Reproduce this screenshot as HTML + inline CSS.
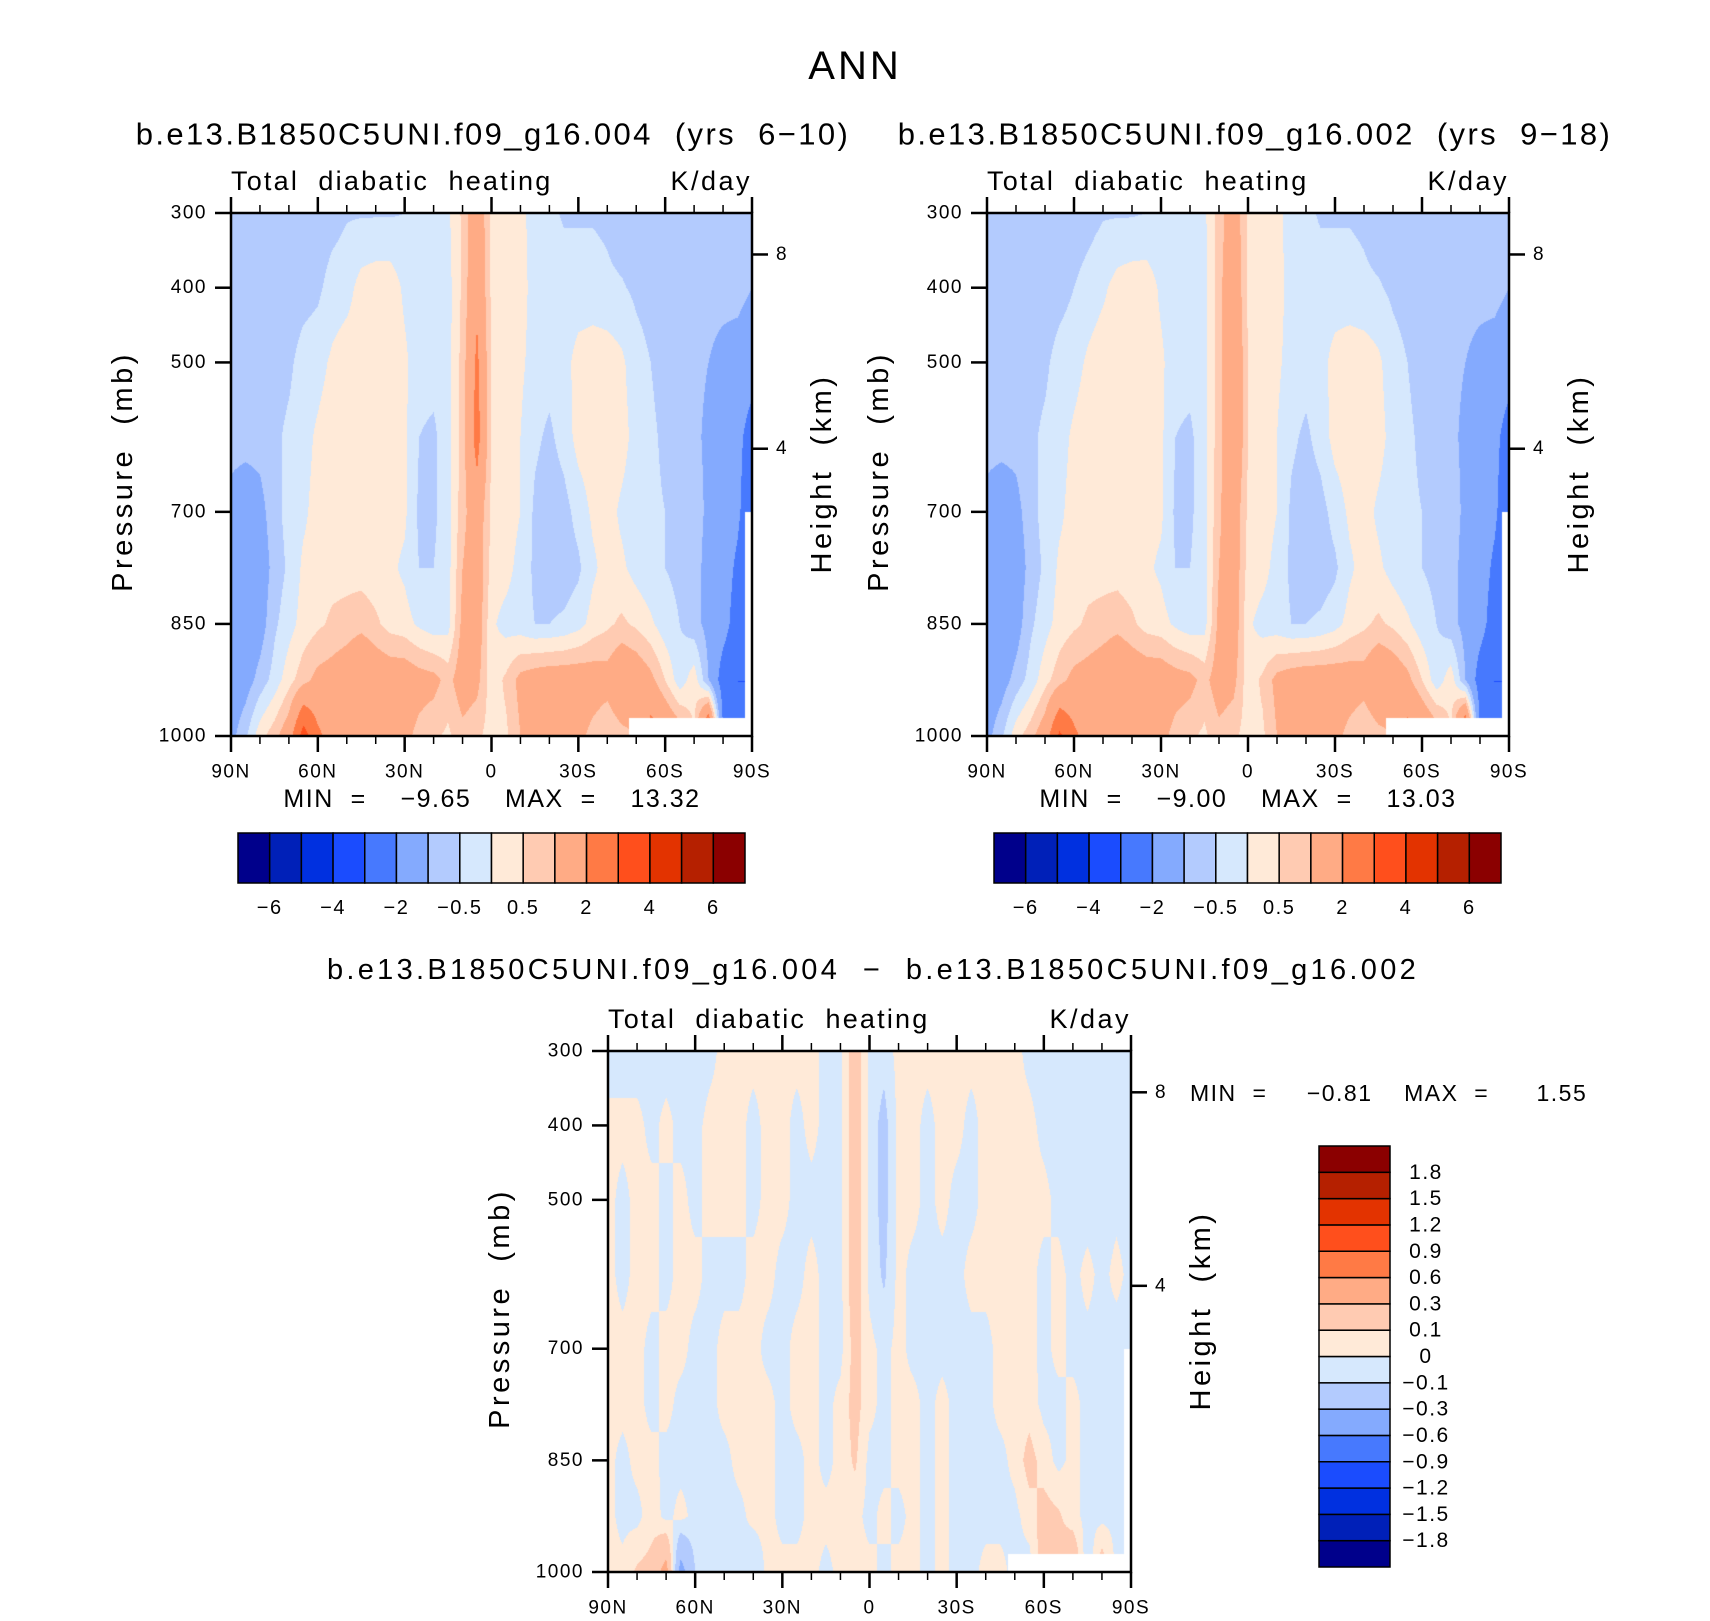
<!DOCTYPE html>
<html><head><meta charset="utf-8">
<style>
html,body{margin:0;padding:0;background:#fff;}
#root{position:relative;width:1710px;height:1621px;overflow:hidden;background:#fff;font-family:"Liberation Sans",sans-serif;color:#000;}
.t{position:absolute;white-space:pre;line-height:1;}
canvas{position:absolute;}
svg{position:absolute;left:0;top:0;}
svg text{white-space:pre;}
</style></head>
<body>
<div id="root">
<div class="t" style="left:0;width:1710px;text-align:center;top:46px;font-size:40px;letter-spacing:3px;">ANN</div>
<canvas id="c1" width="521" height="523" style="left:231px;top:213px"></canvas>
<canvas id="c2" width="522" height="523" style="left:987px;top:213px"></canvas>
<canvas id="c3" width="523" height="521" style="left:608px;top:1051px"></canvas>
<svg id="ov" width="1710" height="1621"></svg>
</div>
<script>
// ---------- data ----------
const lats = [90,85,80,75,70,65,60,55,50,45,40,35,30,25,20,15,10,5,0,-5,-10,-15,-20,-25,-30,-35,-40,-45,-50,-55,-60,-65,-70,-75,-80,-85,-90];
const levels = [300,400,500,600,700,775,850,925,1000];
const surfacePressure = [1000,1000,1000,1000,1000,1000,1000,1000,1000,1000,1000,1000,1000,1000,1000,1000,1000,1000,1000,1000,1000,1000,1000,1000,1000,1000,1000,1000,976,976,976,976,976,976,976,976,700];
const case1 = [
[-0.8,-0.8,-0.8,-0.8,-0.8,-0.8,-0.8,-0.7,-0.55,-0.55,-0.55,-0.55,-0.5,-0.3,-0.2,-0.1,0.6,1.6,0.4,0.3,0.2,-0.3,-0.4,-0.55,-0.55,-0.55,-0.6,-0.8,-0.8,-0.8,-0.8,-0.8,-0.8,-0.8,-0.8,-0.8,-0.6],
[-0.8,-0.8,-0.8,-0.8,-0.8,-0.7,-0.6,-0.3,-0.2,0.2,0.3,0.3,-0.1,-0.3,-0.3,-0.2,0.6,1.8,0.4,0.3,0.2,-0.2,-0.3,-0.3,-0.3,-0.3,-0.4,-0.45,-0.6,-0.7,-0.8,-0.8,-0.8,-0.8,-0.8,-0.8,-1.0],
[-0.8,-0.8,-0.8,-0.7,-0.6,-0.3,-0.2,0.1,0.3,0.3,0.3,0.3,0.1,-0.3,-0.3,-0.2,0.7,2.2,0.4,0.3,0.1,-0.2,-0.3,-0.2,0.2,0.3,0.3,0.1,-0.3,-0.5,-0.7,-0.8,-0.9,-1.0,-1.2,-1.3,-1.5],
[-0.8,-0.8,-0.8,-0.6,-0.4,-0.2,0.1,0.3,0.3,0.3,0.3,0.3,0.1,-0.5,-0.6,-0.2,0.7,2.4,0.4,0.3,0.0,-0.4,-0.6,-0.3,0.2,0.3,0.3,0.2,-0.2,-0.4,-0.6,-0.7,-0.9,-1.1,-1.4,-1.7,-2.5],
[-1.2,-1.4,-1.2,-0.7,-0.3,-0.1,0.2,0.3,0.3,0.2,0.1,0.2,0.1,-0.6,-0.6,-0.2,0.8,1.5,0.4,0.3,0.0,-0.6,-0.8,-0.7,-0.3,0.1,0.2,-0.1,-0.3,-0.4,-0.5,-0.6,-0.8,-1.1,-1.4,-1.8,-2.8],
[-1.5,-1.6,-1.4,-0.8,-0.4,0.1,0.2,0.3,0.3,0.3,0.2,0.1,-0.1,-0.5,-0.5,-0.2,1.0,1.5,0.3,0.2,-0.2,-0.6,-0.8,-0.8,-0.6,-0.1,0.2,0.1,-0.2,-0.4,-0.5,-0.6,-0.8,-1.2,-1.5,-2.2,-3.0],
[-1.6,-1.5,-1.3,-0.6,-0.2,0.2,0.4,0.6,0.7,0.8,0.6,0.3,0.2,-0.1,-0.3,-0.2,1.2,1.5,0.1,-0.2,-0.3,-0.5,-0.5,-0.4,-0.2,0.2,0.4,0.6,0.4,0.1,-0.3,-0.5,-0.8,-1.2,-1.6,-2.5,-3.0],
[-1.5,-1.3,-0.8,-0.3,0.3,0.8,1.2,1.3,1.5,2.0,1.6,1.5,1.5,1.3,1.2,0.8,1.4,1.2,0.2,0.6,1.2,1.4,1.5,1.5,1.5,1.4,1.3,1.8,1.6,1.2,0.5,-0.3,0.3,-1.0,-2.5,-3.0,-3.0],
[-1.2,-0.6,0.3,0.8,1.5,3.5,2.2,1.6,1.5,1.4,1.5,1.4,1.2,0.8,0.6,0.4,0.8,0.6,0.3,0.4,1.0,1.2,1.3,1.3,1.2,0.8,0.5,0.8,1.0,2.5,2.0,1.5,0.5,4.0,-2.0,-3.0,-3.0]
];
const case2 = [
[-0.8,-0.8,-0.8,-0.8,-0.8,-0.8,-0.8,-0.7,-0.55,-0.55,-0.55,-0.5,-0.45,-0.3,-0.2,-0.1,0.7,1.5,0.4,0.3,0.2,-0.3,-0.4,-0.55,-0.55,-0.55,-0.6,-0.8,-0.8,-0.8,-0.8,-0.8,-0.8,-0.8,-0.8,-0.8,-0.6],
[-0.8,-0.8,-0.8,-0.8,-0.8,-0.7,-0.5,-0.3,-0.1,0.2,0.3,0.3,-0.1,-0.3,-0.3,-0.2,0.8,1.7,0.4,0.3,0.2,-0.2,-0.3,-0.3,-0.3,-0.3,-0.4,-0.45,-0.6,-0.7,-0.8,-0.8,-0.8,-0.8,-0.8,-0.8,-1.0],
[-0.8,-0.8,-0.8,-0.7,-0.6,-0.3,-0.2,0.1,0.3,0.3,0.3,0.3,0.1,-0.3,-0.3,-0.2,0.8,1.9,0.5,0.3,0.1,-0.2,-0.3,-0.2,0.2,0.3,0.3,0.1,-0.3,-0.5,-0.7,-0.8,-0.9,-1.0,-1.2,-1.3,-1.5],
[-0.8,-0.8,-0.8,-0.6,-0.4,-0.2,0.1,0.3,0.3,0.3,0.3,0.3,0.1,-0.5,-0.6,-0.2,0.8,1.9,0.5,0.3,0.0,-0.4,-0.6,-0.3,0.2,0.3,0.3,0.2,-0.2,-0.4,-0.6,-0.7,-0.9,-1.1,-1.4,-1.7,-2.5],
[-1.2,-1.4,-1.2,-0.7,-0.3,-0.1,0.2,0.3,0.3,0.2,0.1,0.2,0.1,-0.6,-0.6,-0.2,0.9,1.5,0.4,0.3,0.0,-0.6,-0.8,-0.7,-0.3,0.1,0.2,-0.1,-0.3,-0.4,-0.5,-0.6,-0.8,-1.1,-1.4,-1.8,-2.8],
[-1.5,-1.6,-1.4,-0.8,-0.4,0.1,0.2,0.3,0.3,0.3,0.2,0.1,-0.1,-0.5,-0.5,-0.2,1.0,1.5,0.3,0.2,-0.2,-0.6,-0.8,-0.8,-0.6,-0.1,0.2,0.1,-0.2,-0.4,-0.5,-0.6,-0.8,-1.2,-1.5,-2.2,-3.0],
[-1.6,-1.5,-1.3,-0.6,-0.2,0.2,0.4,0.6,0.7,0.8,0.6,0.3,0.2,-0.1,-0.3,-0.2,1.2,1.5,0.1,-0.2,-0.3,-0.5,-0.5,-0.4,-0.2,0.2,0.4,0.6,0.4,0.1,-0.3,-0.5,-0.8,-1.2,-1.6,-2.5,-3.0],
[-1.5,-1.3,-0.8,-0.3,0.3,0.8,1.2,1.3,1.5,1.9,1.6,1.5,1.5,1.3,1.2,0.8,1.4,1.2,0.2,0.6,1.2,1.4,1.5,1.5,1.5,1.4,1.3,1.8,1.6,1.2,0.5,-0.3,0.3,-1.0,-2.5,-3.0,-3.0],
[-1.2,-0.6,0.3,0.8,1.5,3.2,2.2,1.6,1.5,1.4,1.5,1.4,1.2,0.8,0.6,0.4,0.8,0.6,0.3,0.4,1.0,1.2,1.3,1.3,1.2,0.8,0.5,0.8,1.0,2.4,2.0,1.5,0.5,3.8,-2.0,-3.0,-3.0]
];
const diff = [
[-0.05,-0.05,-0.05,-0.05,-0.05,-0.05,-0.05,-0.03,0.03,0.03,0.03,0.03,0.03,0.03,0.03,-0.03,-0.03,0.2,-0.03,-0.05,0.03,0.03,0.03,0.03,0.03,0.03,0.03,0.03,0.03,-0.03,-0.05,-0.05,-0.05,-0.05,-0.05,-0.05,-0.05],
[0.03,0.03,0.03,-0.03,0.03,-0.03,-0.03,0.03,0.03,0.03,-0.03,0.03,0.03,-0.03,0.03,-0.03,-0.03,0.2,-0.03,-0.15,0.03,0.03,-0.03,0.03,0.03,-0.03,0.03,0.03,0.03,0.03,-0.03,-0.05,-0.05,-0.05,-0.05,-0.05,-0.05],
[0.03,-0.03,0.03,0.03,-0.03,0.03,-0.03,0.03,0.03,0.03,-0.03,0.03,0.03,-0.03,-0.03,-0.03,-0.03,0.2,-0.03,-0.15,0.03,0.03,-0.03,0.03,-0.03,-0.03,0.03,0.03,0.03,0.03,0.03,-0.03,-0.05,-0.05,-0.05,-0.03,-0.05],
[0.03,-0.03,0.03,0.03,-0.03,0.03,0.03,-0.03,-0.03,-0.03,0.03,0.03,-0.03,-0.03,0.03,-0.03,-0.03,0.2,-0.03,-0.12,0.03,-0.03,-0.03,-0.03,-0.03,0.03,0.03,0.03,0.03,0.03,-0.03,0.03,-0.03,0.03,-0.03,0.03,-0.03],
[0.03,0.03,0.03,-0.03,0.03,0.03,-0.03,-0.03,0.03,0.03,0.03,-0.03,-0.03,0.03,0.03,-0.03,-0.03,0.15,0.03,-0.03,0.03,-0.03,-0.03,-0.03,-0.03,-0.03,-0.03,0.03,0.03,0.03,-0.03,0.03,-0.03,-0.03,-0.03,-0.05,-0.05],
[0.03,0.03,0.03,-0.03,0.03,-0.03,-0.03,-0.03,0.03,0.03,0.03,0.03,-0.03,0.03,0.03,-0.03,0.03,0.15,0.03,-0.03,0.03,0.03,-0.03,0.03,-0.03,-0.03,-0.03,0.03,0.03,0.05,-0.03,-0.03,0.03,-0.03,-0.03,-0.03,-0.03],
[0.03,-0.03,0.03,0.03,-0.03,-0.03,-0.03,-0.03,-0.03,0.03,0.03,0.03,-0.03,-0.03,0.03,-0.03,0.03,0.12,-0.03,-0.03,0.03,0.03,-0.03,0.03,-0.03,-0.03,-0.03,-0.03,0.03,0.15,0.05,-0.03,0.03,-0.03,-0.03,-0.03,-0.03],
[0.03,-0.03,-0.03,0.05,-0.03,0.03,-0.03,-0.03,-0.03,-0.03,0.03,0.03,-0.03,-0.03,0.03,0.03,0.03,0.03,-0.03,0.03,-0.03,0.03,-0.03,0.03,-0.03,-0.03,-0.03,-0.03,-0.03,0.05,0.15,0.12,0.03,-0.03,-0.03,-0.03,-0.03],
[0.03,0.03,0.12,0.15,0.4,-0.4,-0.1,-0.03,-0.1,-0.03,-0.1,0.03,0.03,0.03,0.03,-0.03,0.03,0.03,0.03,-0.03,0.03,0.03,-0.03,0.03,-0.03,-0.03,0.03,0.03,-0.03,-0.05,0.2,0.15,0.3,-0.1,0.2,-0.03,-0.03]
];
const absEdges = [-6,-5,-4,-3,-2,-1,-0.5,0,0.5,1,2,3,4,5,6];
const absLabels = ["−6","−4","−2","−0.5","0.5","2","4","6"];
const diffEdges = [-1.8,-1.5,-1.2,-0.9,-0.6,-0.3,-0.1,0,0.1,0.3,0.6,0.9,1.2,1.5,1.8];
const diffLabels = ["−1.8","−1.5","−1.2","−0.9","−0.6","−0.3","−0.1","0","0.1","0.3","0.6","0.9","1.2","1.5","1.8"];
const latTicks = [90,60,30,0,-30,-60,-90];
const latTickLabels = ["90N","60N","30N","0","30S","60S","90S"];
const presTicks = [300,400,500,700,850,1000];
const heightTicks = [8,4];
const heightTickP = [355.5,615.5];
const colors = ["#00008b","#0020b8","#0030e0","#1b4cfe","#4779fe","#84aafe","#b3cbfe","#d6e8fd","#ffead8","#ffcbb2","#ffab85","#ff7a45","#ff4f1c","#e33300","#b52000","#8b0000"];

// ---------- helpers ----------
const NS="http://www.w3.org/2000/svg";
const ov=document.getElementById('ov');
function hex(c){return [parseInt(c.substr(1,2),16),parseInt(c.substr(3,2),16),parseInt(c.substr(5,2),16)];}
const rgb=colors.map(hex);
function cls(v,edges){let i=0;while(i<edges.length&&v>=edges[i])i++;return i;}
function sample(data,fi,p){
  const i0=Math.min(Math.floor(fi),lats.length-2),tx=fi-i0;
  let k=0;while(k<levels.length-2&&p>levels[k+1])k++;
  const ty=(p-levels[k])/(levels[k+1]-levels[k]);
  const a=data[k][i0],b=data[k][i0+1],c=data[k+1][i0],d=data[k+1][i0+1];
  return (a*(1-tx)+b*tx)*(1-ty)+(c*(1-tx)+d*tx)*ty;
}
function drawField(id,data,edges){
  const cv=document.getElementById(id),ctx=cv.getContext('2d');
  const W=cv.width,H=cv.height,img=ctx.createImageData(W,H);
  for(let py=0;py<H;py++){
    const p=300+(py+0.5)/H*700;
    for(let px=0;px<W;px++){
      const fi=(px+0.5)/W*(lats.length-1);
      const o=(py*W+px)*4;
      const ps=surfacePressure[Math.round(fi)];
      if(p>ps){img.data[o]=255;img.data[o+1]=255;img.data[o+2]=255;img.data[o+3]=255;continue;}
      const c=rgb[cls(sample(data,fi,p),edges)];
      img.data[o]=c[0];img.data[o+1]=c[1];img.data[o+2]=c[2];img.data[o+3]=255;
    }
  }
  ctx.putImageData(img,0,0);
}
function el(tag,attrs,parent){const e=document.createElementNS(NS,tag);for(const k in attrs)e.setAttribute(k,attrs[k]);(parent||ov).appendChild(e);return e;}
function txt(x,y,s,size,anchor,name,rot,ls){
  const t=el('text',{x:x,y:y,'font-size':size,'text-anchor':anchor||'middle','dominant-baseline':'central','font-family':'Liberation Sans, sans-serif',fill:'#000','letter-spacing':(ls||0)+'px'});
  if(rot)t.setAttribute('transform','rotate(-90 '+x+' '+y+')');
  
  
  t.textContent=s;return t;
}
function line(x1,y1,x2,y2,w,name){
  const l=el('line',{x1:x1,y1:y1,x2:x2,y2:y2,stroke:'#000','stroke-width':w});
  
  
  return l;
}
function axes(L,T,W,H,pfx){
  const xs=lat=>L+(90-lat)/180*W, ys=p=>T+(p-300)/700*H;
  const fr=el('rect',{x:L,y:T,width:W,height:H,fill:'none',stroke:'#000','stroke-width':2.5});
  
  
  for(let lat=90;lat>=-90;lat-=10){
    const major=lat%30===0, len=major?16:8;
    line(xs(lat),T+H,xs(lat),T+H+len,major?2.5:1.5,pfx+'-x-tick');
    line(xs(lat),T,xs(lat),T-len,major?2.5:1.5,pfx+'-x-tick-top');
  }
  latTicks.forEach((lat,i)=>txt(xs(lat),T+H+36,latTickLabels[i],19,'middle',pfx+'-x-tick-label',false,1.5));
  presTicks.forEach(p=>{line(L,ys(p),L-16,ys(p),2.5,pfx+'-y-tick');txt(L-24,ys(p),String(p),19,'end',pfx+'-y-tick-label',false,1.5);});
  heightTicks.forEach((h,i)=>{const y=ys(heightTickP[i]);line(L+W,y,L+W+16,y,2.5,pfx+'-height-tick');txt(L+W+24,y,String(h),19,'start',pfx+'-height-tick-label');});
  txt(L-108,T+H/2-3,'Pressure  (mb)',29,'middle',pfx+'-y-axis-title',true,3.5);
  txt(L+W+70,T+H/2-1,'Height  (km)',29,'middle',pfx+'-height-axis-title',true,3.5);
  txt(L,T-32,'Total  diabatic  heating',27,'start',pfx+'-variable-label',false,2.2);
  txt(L+W,T-32,'K/day',27,'end',pfx+'-units-label',false,2.5);
}
function hbar(L,T,W,H,pfx){
  const n=colors.length,bw=W/n;
  colors.forEach((c,i)=>{const r=el('rect',{x:L+i*bw,y:T,width:bw,height:H,fill:c,stroke:'#000','stroke-width':1.5});
    
    });
  absLabels.forEach((s,j)=>txt(L+(2*j+1)*bw,T+H+25,s,20,'middle',pfx+'-colorbar-label',false,1.5));
}
function vbar(L,T,W,H){
  const n=colors.length,bh=H/n;
  colors.forEach((c,i)=>{const r=el('rect',{x:L,y:T+H-(i+1)*bh,width:W,height:bh,fill:c,stroke:'#000','stroke-width':1.5});
    
    });
  diffLabels.forEach((s,j)=>txt(L+W+36,T+H-(j+1)*bh,s,21,'middle','diff-colorbar-label',false,1.5));
}
// ---------- draw ----------
drawField('c1',case1,absEdges);
drawField('c2',case2,absEdges);
drawField('c3',diff,diffEdges);
axes(231,213,521,523,'case1');
axes(987,213,522,523,'case2');
axes(608,1051,523,521,'diff');
txt(493,134,'b.e13.B1850C5UNI.f09_g16.004  (yrs  6−10)',31,'middle','case1-title',false,2.4);
txt(1255,134,'b.e13.B1850C5UNI.f09_g16.002  (yrs  9−18)',31,'middle','case2-title',false,2.4);
txt(873,970,'b.e13.B1850C5UNI.f09_g16.004  −  b.e13.B1850C5UNI.f09_g16.002',29,'middle','diff-title',false,3.3);
txt(492,799,'MIN  =    −9.65    MAX  =    13.32',25,'middle','case1-min-max',false,1.5);
txt(1248,799,'MIN  =    −9.00    MAX  =    13.03',25,'middle','case2-min-max',false,1.5);
txt(1190,1093,'MIN  =     −0.81    MAX  =      1.55',23,'start','diff-min-max',false,1.5);
hbar(238,833,507,50,'case1');
hbar(994,833,507,50,'case2');
vbar(1319,1146,71,421);
</script>
</body></html>
